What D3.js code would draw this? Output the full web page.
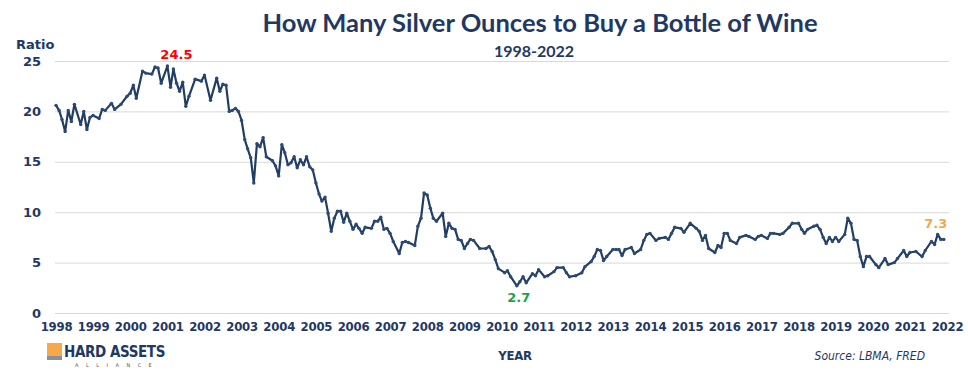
<!DOCTYPE html>
<html>
<head>
<meta charset="utf-8">
<script src="https://cdn.jsdelivr.net/npm/d3@7"></script>
<style>
  body { margin: 0; background: #fff; }
  svg { display: block; }
  .grid line { stroke: #d9d9d9; stroke-width: 1; }
  .ytick { font-family: "DejaVu Sans", sans-serif; font-weight: bold; font-size: 13px; fill: #1f3864; }
  .xtick { font-family: "Liberation Sans Narrow", "DejaVu Sans Condensed", sans-serif; font-weight: bold; font-size: 13px; fill: #1f3864; letter-spacing: -0.2px; }
</style>
</head>
<body>
<svg id="viz" width="968" height="374"></svg>
<script>
// monthly readings of the ratio (silver oz per bottle of wine)
var months = [
  '1998-01','1998-02','1998-03','1998-04','1998-05','1998-06','1998-07','1998-09','1998-10','1998-11','1998-12',
  '1999-01','1999-03','1999-04','1999-05','1999-07','1999-08','1999-10','1999-12',
  '2000-01','2000-02','2000-03','2000-05','2000-06','2000-08','2000-09','2000-10','2000-11',
  '2001-01','2001-02','2001-03','2001-04','2001-05','2001-06','2001-07','2001-08','2001-10','2001-12',
  '2002-01','2002-03','2002-05','2002-06','2002-07','2002-08','2002-09','2002-10','2002-11','2002-12',
  '2003-01','2003-02','2003-03','2003-04','2003-05','2003-06','2003-07','2003-08','2003-09','2003-11','2003-12',
  '2004-01','2004-02','2004-03','2004-04','2004-05','2004-06','2004-07','2004-08','2004-09','2004-10','2004-11','2004-12',
  '2005-01','2005-02','2005-03','2005-04','2005-05','2005-06','2005-07','2005-08','2005-09','2005-10','2005-11','2005-12',
  '2006-01','2006-02','2006-03','2006-04','2006-05','2006-07','2006-08','2006-09','2006-10','2006-11','2006-12',
  '2007-01','2007-02','2007-04','2007-05','2007-06','2007-07','2007-09','2007-10','2007-11','2007-12',
  '2008-01','2008-02','2008-03','2008-04','2008-06','2008-07','2008-08','2008-09','2008-10','2008-11','2008-12',
  '2009-01','2009-02','2009-03','2009-04','2009-06','2009-08','2009-09','2009-10','2009-11','2009-12',
  '2010-02','2010-03','2010-04','2010-06','2010-07','2010-08','2010-09','2010-11','2010-12',
  '2011-01','2011-03','2011-04','2011-06','2011-07','2011-09','2011-10','2011-11',
  '2012-01','2012-03','2012-04','2012-06','2012-07','2012-08','2012-09','2012-10','2012-11',
  '2013-01','2013-02','2013-03','2013-04','2013-05','2013-07','2013-08','2013-10','2013-11','2013-12',
  '2014-01','2014-03','2014-04','2014-06','2014-07','2014-08','2014-09','2014-11','2014-12',
  '2015-02','2015-04','2015-05','2015-06','2015-07','2015-08','2015-10','2015-11','2015-12',
  '2016-01','2016-02','2016-03','2016-05','2016-06','2016-08','2016-09','2016-11','2016-12',
  '2017-01','2017-03','2017-04','2017-05','2017-07','2017-08','2017-10','2017-11',
  '2018-01','2018-02','2018-03','2018-04','2018-06','2018-07','2018-08','2018-09','2018-10','2018-11','2018-12',
  '2019-01','2019-02','2019-04','2019-05','2019-06','2019-07','2019-08','2019-09','2019-10','2019-11','2019-12',
  '2020-02','2020-03','2020-05','2020-06','2020-08','2020-09','2020-11','2020-12',
  '2021-01','2021-03','2021-05','2021-06','2021-08','2021-09','2021-10','2021-11','2021-12'
];
var ratio = [
  20.6,20.1,19.2,18.0,20.1,19.0,20.7,18.7,20.0,18.2,19.4,
  19.6,19.3,20.2,20.1,20.8,20.2,20.7,21.5,
  21.8,22.6,21.3,24.0,23.8,23.7,24.4,24.3,22.8,
  24.5,22.4,24.2,22.8,22.0,22.9,20.5,21.5,23.2,23.0,
  23.6,21.1,23.3,22.0,22.7,22.6,20.0,20.1,20.3,20.0,
  19.1,17.2,16.3,15.4,12.9,16.8,16.5,17.4,15.5,15.1,14.6,
  13.6,16.7,15.9,14.7,14.9,15.5,14.4,15.2,14.7,15.5,14.5,14.2,
  12.9,11.8,11.1,11.5,9.9,8.1,9.4,10.1,10.1,9.0,9.9,9.1,
  8.3,8.8,8.4,7.9,8.5,8.4,9.1,9.1,9.5,8.3,8.4,
  7.9,7.1,5.9,7.0,7.1,7.0,6.7,8.6,9.4,11.9,
  11.7,10.4,9.4,9.1,9.9,7.6,8.9,8.4,8.3,7.3,7.2,
  6.4,6.9,7.3,7.2,6.4,6.4,6.6,6.1,5.3,4.4,
  4.0,4.2,3.6,2.7,3.1,3.6,3.0,3.9,3.7,
  4.3,3.6,3.7,4.1,4.5,4.5,4.0,3.6,
  3.7,4.0,4.6,5.1,5.6,6.3,6.2,5.2,5.6,
  6.3,6.3,6.3,5.7,6.3,6.5,5.9,6.3,7.2,7.8,
  7.9,7.2,7.4,7.5,7.3,7.9,8.5,8.4,8.0,
  8.9,8.4,8.1,7.2,7.7,6.4,6.0,6.7,6.5,
  7.9,7.9,7.2,6.9,7.5,7.7,7.6,7.3,7.6,
  7.7,7.4,7.9,7.9,7.8,7.9,8.5,8.9,
  8.9,8.3,7.9,8.3,8.6,8.7,8.3,7.5,6.9,7.5,7.1,
  7.5,7.1,7.8,9.4,8.9,7.3,7.2,5.6,4.6,5.6,5.6,
  4.8,4.5,5.4,4.8,5.0,5.4,6.2,5.6,
  6.0,6.1,5.6,6.2,7.1,6.8,7.8,7.3,7.3
];
var yTicks = [0, 5, 10, 15, 20, 25];
var yearLabels = ['1998','1999','2000','2001','2002','2003','2004','2005','2006','2007','2008','2009',
  '2010','2011','2012','2013','2014','2015','2016','2017','2018','2019','2020','2021','2022'];

var navy = '#1f3864', lineCol = '#203d64';
var parseMonth = d3.timeParse('%Y-%m'), parseYear = d3.timeParse('%Y');
var data = months.map(function(m, i) { return {date: parseMonth(m), v: ratio[i]}; });

var svg = d3.select('#viz');
var x = d3.scaleTime().domain([parseYear('1998'), parseYear('2022')]).range([56, 947]);
var y = d3.scaleLinear().domain([0, 25]).range([313, 61]);

// grid
svg.append('g').attr('class', 'grid')
  .selectAll('line').data(yTicks).enter().append('line')
  .attr('x1', 55).attr('x2', 949)
  .attr('y1', function(d) { return y(d) + 0.5; })
  .attr('y2', function(d) { return y(d) + 0.5; });

// y axis labels
var yAxis = d3.axisLeft(y).tickValues(yTicks).tickSize(0).tickPadding(0);
var gy = svg.append('g').attr('transform', 'translate(41,0)').call(yAxis);
gy.select('.domain').remove();
gy.selectAll('text').attr('class', 'ytick').attr('font-family', null).attr('font-size', null).attr('fill', null);

svg.append('text').attr('x', 16).attr('y', 49).attr('class', 'ytick').text('Ratio');

// x axis labels
var xAxis = d3.axisBottom(x).tickValues(yearLabels.map(function(s) { return parseYear(s); }))
  .tickFormat(d3.timeFormat('%Y')).tickSize(0).tickPadding(0);
var gx = svg.append('g').attr('transform', 'translate(0,322)').call(xAxis);
gx.select('.domain').remove();
gx.selectAll('text').attr('class', 'xtick').attr('font-family', null).attr('font-size', null).attr('fill', null);

// line + small markers
var line = d3.line().x(function(d) { return x(d.date); }).y(function(d) { return y(d.v); });
svg.append('path').datum(data)
  .attr('d', line).attr('fill', 'none')
  .attr('stroke', lineCol).attr('stroke-width', 2.2).attr('stroke-linejoin', 'round');
svg.append('g').selectAll('circle').data(data).enter().append('circle')
  .attr('cx', function(d) { return x(d.date); })
  .attr('cy', function(d) { return y(d.v); })
  .attr('r', 1.7).attr('fill', '#2c4a73');

// callouts: max, min, last
var maxD = data.reduce(function(a, b) { return b.v > a.v ? b : a; });
var minD = data.reduce(function(a, b) { return b.v < a.v ? b : a; });
var lastD = data[data.length - 1];
function callout(d, dx, dy, col) {
  svg.append('text').attr('class', 'ytick').attr('text-anchor', 'middle')
    .attr('x', x(d.date) + dx).attr('y', y(d.v) + dy)
    .style('fill', col).text(d3.format('.1f')(d.v));
}
callout(maxD, 9, -7, '#ff0000');
callout(minD, 2, 16, '#1aa34a');
callout(lastD, -8, -11, '#f4a84a');

// titles
svg.append('text').attr('x', 540).attr('y', 32).attr('text-anchor', 'middle')
  .style('font-family', 'Lato, sans-serif').style('font-weight', 'bold').style('font-size', '25.5px')
  .style('fill', navy).text('How Many Silver Ounces to Buy a Bottle of Wine');
svg.append('text').attr('x', 534).attr('y', 57).attr('text-anchor', 'middle')
  .style('font-family', 'Lato, sans-serif').style('font-weight', 'bold').style('font-size', '16px')
  .style('fill', navy).text('1998-2022');

svg.append('text').attr('x', 515).attr('y', 360).attr('text-anchor', 'middle')
  .attr('class', 'xtick').text('YEAR');
svg.append('text').attr('x', 925).attr('y', 360).attr('text-anchor', 'end')
  .style('font-family', '"Liberation Sans Narrow", "DejaVu Sans Condensed", sans-serif')
  .style('font-style', 'italic').style('font-size', '12px').style('fill', navy)
  .text('Source: LBMA, FRED');

// logo
var logo = svg.append('g').attr('transform', 'translate(47,343)');
logo.append('rect').attr('x', 0).attr('y', 0).attr('width', 15).attr('height', 17).attr('fill', '#f7a94a');
logo.append('rect').attr('x', 0).attr('y', 13).attr('width', 15).attr('height', 4).attr('fill', '#8a8f99');
logo.append('text').attr('x', 17).attr('y', 14)
  .style('font-family', '"Liberation Sans Narrow", "DejaVu Sans Condensed", sans-serif')
  .style('font-weight', 'bold').style('font-size', '15px').style('fill', navy).style('letter-spacing', '-0.4px')
  .text('HARD ASSETS');
logo.append('text').attr('x', 28).attr('y', 24)
  .style('font-family', 'DejaVu Sans, sans-serif').style('font-size', '5px').style('fill', '#555')
  .style('letter-spacing', '7.5px').text('ALLIANCE');
</script>
</body>
</html>
